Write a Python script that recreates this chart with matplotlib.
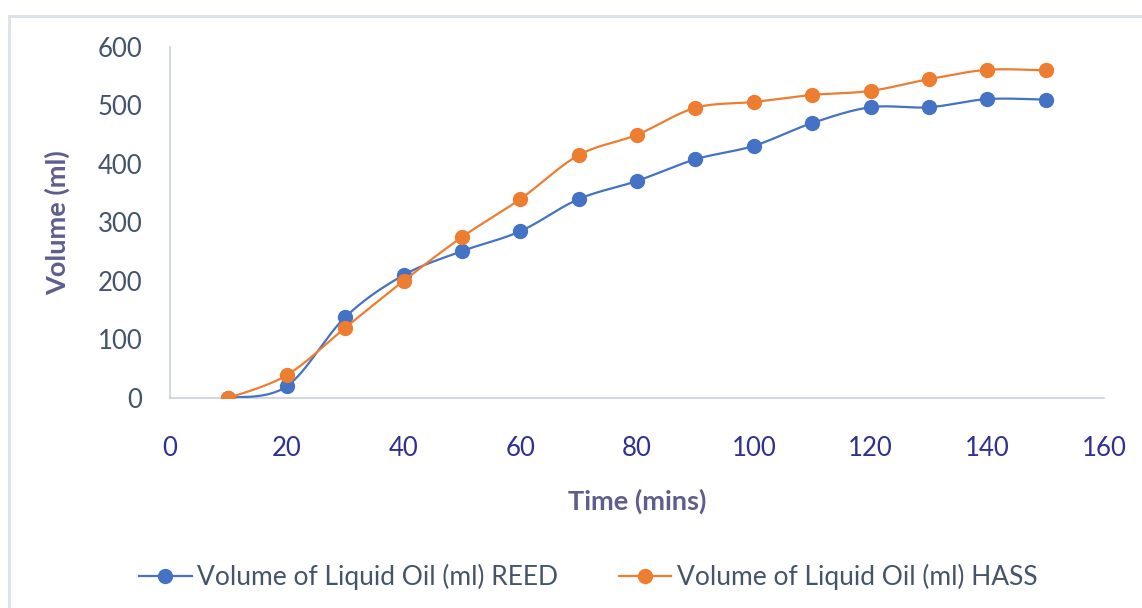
import matplotlib
matplotlib.use("Agg")
import matplotlib.pyplot as plt
from matplotlib.lines import Line2D
import numpy as np

time_mins = [10, 20, 30, 40, 50, 60, 70, 80, 90, 100, 110, 120, 130, 140, 150]
reed_ml = [0, 20, 138, 210, 251, 285, 340, 371, 408, 431, 470, 497, 497, 511, 510]
hass_ml = [0, 39, 120, 200, 275, 340, 415, 450, 496, 506, 518, 525, 545, 561, 560]
series_labels = ["Volume of Liquid Oil (ml) REED", "Volume of Liquid Oil (ml) HASS"]
series_colors = ["#4472C4", "#ED7D31"]

plt.rcParams['font.family'] = ['Lato', 'DejaVu Sans']

fig = plt.figure(figsize=(11.42, 6.08), dpi=100)
ax = fig.add_axes([170 / 1142, 1 - 398 / 608, (1104 - 170) / 1142, (398 - 47) / 608])
ax.set_xlim(0, 160)
ax.set_ylim(0, 600)


def excel_smooth(ax, xs, ys, n=30):
    # bezier smoothing like Excel's "smoothed line", done in screen space
    pts = ax.transData.transform(np.column_stack([xs, ys]))
    p = np.vstack([pts[0], pts, pts[-1]])
    out = []
    for i in range(1, len(p) - 2):
        p0, p1, p2, p3 = p[i - 1], p[i], p[i + 1], p[i + 2]
        c1 = p1 + (p2 - p0) / 6
        c2 = p2 - (p3 - p1) / 6
        t = np.linspace(0, 1, n)[:, None]
        seg = ((1 - t) ** 3) * p1 + 3 * ((1 - t) ** 2) * t * c1 + 3 * (1 - t) * t ** 2 * c2 + t ** 3 * p2
        out.append(seg if i == 1 else seg[1:])
    curve = np.vstack(out)
    return ax.transData.inverted().transform(curve)


for ys, lab, col, z in [(reed_ml, series_labels[0], series_colors[0], 3),
                        (hass_ml, series_labels[1], series_colors[1], 4)]:
    c = excel_smooth(ax, time_mins, ys)
    ax.plot(c[:, 0], c[:, 1], color=col, lw=1.6, zorder=z)
    ax.plot(time_mins, ys, 'o', color=col, ms=10, zorder=z)

ax.set_xticks(np.arange(0, 161, 20))
ax.set_yticks(np.arange(0, 601, 100))
for s in ['top', 'right']:
    ax.spines[s].set_visible(False)
for s in ['left', 'bottom']:
    ax.spines[s].set_color('#C9CFDA')
    ax.spines[s].set_linewidth(1.2)
ax.tick_params(axis='both', length=0)
ax.tick_params(axis='y', labelsize=18.5, labelcolor='#44546A', pad=20)
ax.tick_params(axis='x', labelsize=18.5, labelcolor='#2E3192', pad=27)

ax.set_xlabel("Time (mins)", fontsize=19.5, fontweight='bold', color='#5E5E8E', labelpad=20)
ax.set_ylabel("Volume (ml)", fontsize=19.5, fontweight='bold', color='#5E5E8E', labelpad=20)

handles = [Line2D([], [], color=c, lw=1.6, marker='o', ms=10) for c in series_colors]
fig.legend(handles, series_labels, loc='center', bbox_to_anchor=(0.515, 1 - 577 / 608),
           ncol=2, frameon=False, fontsize=19, labelcolor='#44546A',
           handlelength=2.0, handletextpad=0.2, columnspacing=2.3)

# light chart-area border
fig.add_artist(Line2D([8.5 / 1142, 1], [1 - 15.5 / 608] * 2, color='#DCE1EA', lw=2))
fig.add_artist(Line2D([8.5 / 1142] * 2, [0, 1 - 15.5 / 608], color='#DCE1EA', lw=2))

fig.savefig("out.png", dpi=100)
